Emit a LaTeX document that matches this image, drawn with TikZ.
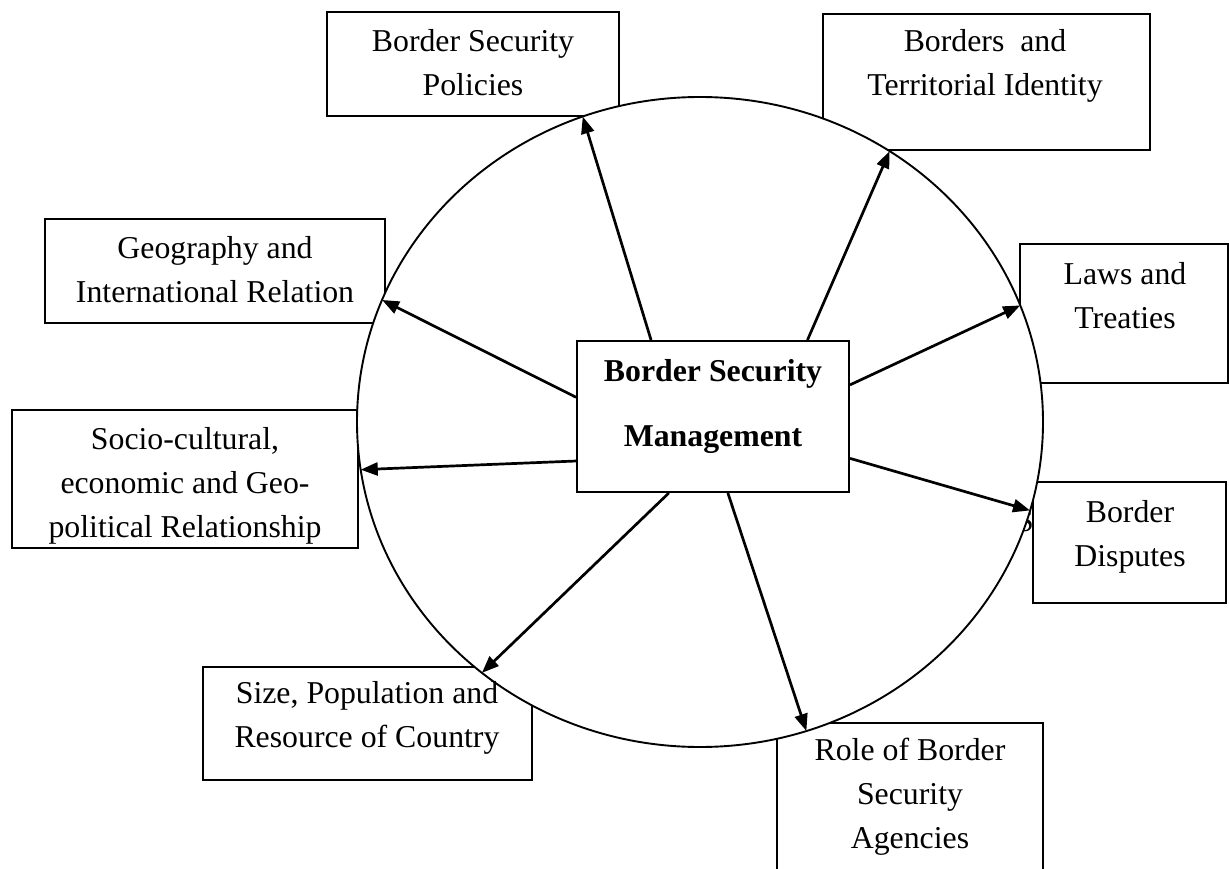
\documentclass[tikz,border=0pt]{standalone}
\usepackage{fontspec}
\setmainfont{Liberation Serif}
\usetikzlibrary{arrows.meta,shapes.geometric}

\tikzset{
  factor/.style={draw, fill=white, line width=1.8pt},
  factortext/.style={align=center, inner sep=0pt, font=\fontsize{31.8}{44}\selectfont},
  hub/.style={draw, fill=white, line width=2pt, inner sep=0pt},
  hubtext/.style={align=center, inner sep=0pt, font=\bfseries\fontsize{31.8}{65}\selectfont},
}

\begin{document}
\begin{tikzpicture}[x=1pt, y=-1pt, line width=1.4pt, >={Triangle[length=17pt, width=13pt]}]
  \useasboundingbox (0,0) rectangle (1229,869);
  % letra suelta, casi tapada por el anillo y la caja de la derecha
  \node[factortext] (stray) at (1025,521) {S};
  % --- cajas exteriores ---
  \draw[factor] (327,12) rectangle (619,116);
  \draw[factor] (823,14) rectangle (1150,150);
  \draw[factor] (45,219) rectangle (385,323);
  \draw[factor] (1020,244) rectangle (1228,383);
  \draw[factor] (12,410) rectangle (358,548);
  \draw[factor] (1033,482) rectangle (1226,603);
  \draw[factor] (203,667) rectangle (532,780);
  \draw[factor] (777,723) rectangle (1043,900);
  % anillo blanco por encima de las esquinas de las cajas
  \node[draw, fill=white, ellipse, line width=1.9pt, inner sep=0pt, outer sep=0pt,
        minimum width=686pt, minimum height=650pt] (border) at (700,422) {};
  % textos de las cajas
  \node[factortext] (policies) at (473,63) {Border Security\\Policies};
  \node[factortext] (territory) at (985,66) {Borders~ and\\Territorial Identity};
  \node[factortext] (geography) at (215,270) {Geography and\\International Relation};
  \node[factortext] (laws) at (1125,296) {Laws and\\Treaties};
  \begin{scope}
    \clip (12,410) rectangle (358,547);
    \node[factortext] (socio) at (185,486) {Socio-cultural,\\economic and Geo-\\political Relationship};
  \end{scope}
  \node[factortext] (disputes) at (1130,537) {Border\\Disputes};
  \node[factortext] (size) at (367,718) {Size, Population and\\Resource of Country};
  \node[factortext] (agencies) at (910,797) {Role of Border\\Security\\Agencies};
  % caja central
  \node[hub, minimum width=272pt, minimum height=151pt] (bsm) at (713,416.5) {};
  \node[hubtext] (bsm-t) at (713,406) {Border Security\\Management};
  % flechas: angulo en la caja central / angulo en el anillo
  \foreach \s/\e in {129.8/111.5, 39.4/55.8, 13.8/20.4, -17/-15.6,
                     -79.5/-71.5, -120.8/-131.4, 198.5/188, 172.3/159.7} {
    \draw[->, line width=2.7pt] (bsm.\s) -- (border.\e);
  }
\end{tikzpicture}
\end{document}
